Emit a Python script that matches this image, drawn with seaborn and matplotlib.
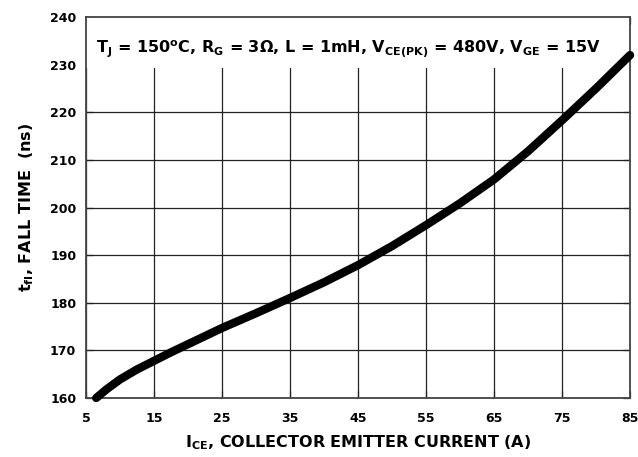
import numpy as np
import pandas as pd
import seaborn as sns
import matplotlib.pyplot as plt
from matplotlib.patches import Rectangle

# values
collector_current = [6.5, 8, 10, 12.5, 15, 17.5, 20, 25, 30, 35, 40, 45, 50, 55, 60, 65, 70, 75, 80, 85]
fall_time = [160.0, 161.8, 163.9, 166.0, 167.8, 169.6, 171.3, 174.7, 177.8, 181.0, 184.3, 187.9, 191.9, 196.3, 200.9, 205.9, 211.8, 218.3, 225.0, 232.0]

x_ticks = [5, 15, 25, 35, 45, 55, 65, 75, 85]
y_ticks = [160, 170, 180, 190, 200, 210, 220, 230, 240]

sns.set_theme(style='ticks')
plt.rcParams['font.family'] = ['DejaVu Sans']
plt.rcParams['font.weight'] = 'bold'
plt.rcParams['text.color'] = 'black'
plt.rcParams['axes.labelcolor'] = 'black'
plt.rcParams['xtick.color'] = 'black'
plt.rcParams['ytick.color'] = 'black'
plt.rcParams['mathtext.fontset'] = 'custom'
plt.rcParams['mathtext.rm'] = 'DejaVu Sans:bold'
plt.rcParams['mathtext.bf'] = 'DejaVu Sans:bold'
plt.rcParams['mathtext.it'] = 'DejaVu Sans:bold'

df = pd.DataFrame({'ice': collector_current, 'tf': fall_time})

fig, ax = plt.subplots(figsize=(6.38, 4.57), dpi=100)
fig.subplots_adjust(left=0.1348, right=0.9875, top=0.9628, bottom=0.1291)

# grid drawn by hand so the caption box can hide the top part
ax.vlines(x_ticks, y_ticks[0], y_ticks[-1], colors='#222222', linewidth=0.9, zorder=0.8)
ax.hlines(y_ticks, x_ticks[0], x_ticks[-1], colors='#222222', linewidth=0.9, zorder=0.8)
ax.add_patch(Rectangle((0, 0.866), 1, 0.134, transform=ax.transAxes,
                       facecolor='white', edgecolor='none', zorder=0.9))

sns.lineplot(data=df, x='ice', y='tf', color='black', linewidth=6,
             solid_capstyle='round', solid_joinstyle='round', ax=ax, zorder=3)
for ln in ax.get_lines():
    ln.set_clip_on(False)

ax.set_xlim(5, 85)
ax.set_ylim(160, 240)
ax.set_xticks(x_ticks)
ax.set_yticks(y_ticks)
ax.tick_params(direction='in', length=5, width=0.9, color='#222222',
               top=True, right=True, labelsize=9, pad=7)
ax.tick_params(axis='x', pad=10)
for lab in ax.get_xticklabels() + ax.get_yticklabels():
    lab.set_fontweight('bold')
for sp in ax.spines.values():
    sp.set_visible(True)
    sp.set_color('#444444')
    sp.set_linewidth(1.3)

ax.text(0.018, 0.915,
        r'T$_\mathrm{J}$ = 150$^\mathrm{o}$C, R$_\mathrm{G}$ = 3$\Omega$, L = 1mH, '
        r'V$_\mathrm{CE(PK)}$ = 480V, V$_\mathrm{GE}$ = 15V',
        transform=ax.transAxes, fontsize=11.5, fontweight='bold', va='center', ha='left')

ax.set_xlabel(r'I$_\mathrm{CE}$, COLLECTOR EMITTER CURRENT (A)',
              fontsize=11.5, fontweight='bold', labelpad=6)
ax.set_ylabel(r't$_\mathrm{fI}$, FALL TIME  (ns)', fontsize=11.5, fontweight='bold', labelpad=10)

fig.savefig('out.png', dpi=100)
